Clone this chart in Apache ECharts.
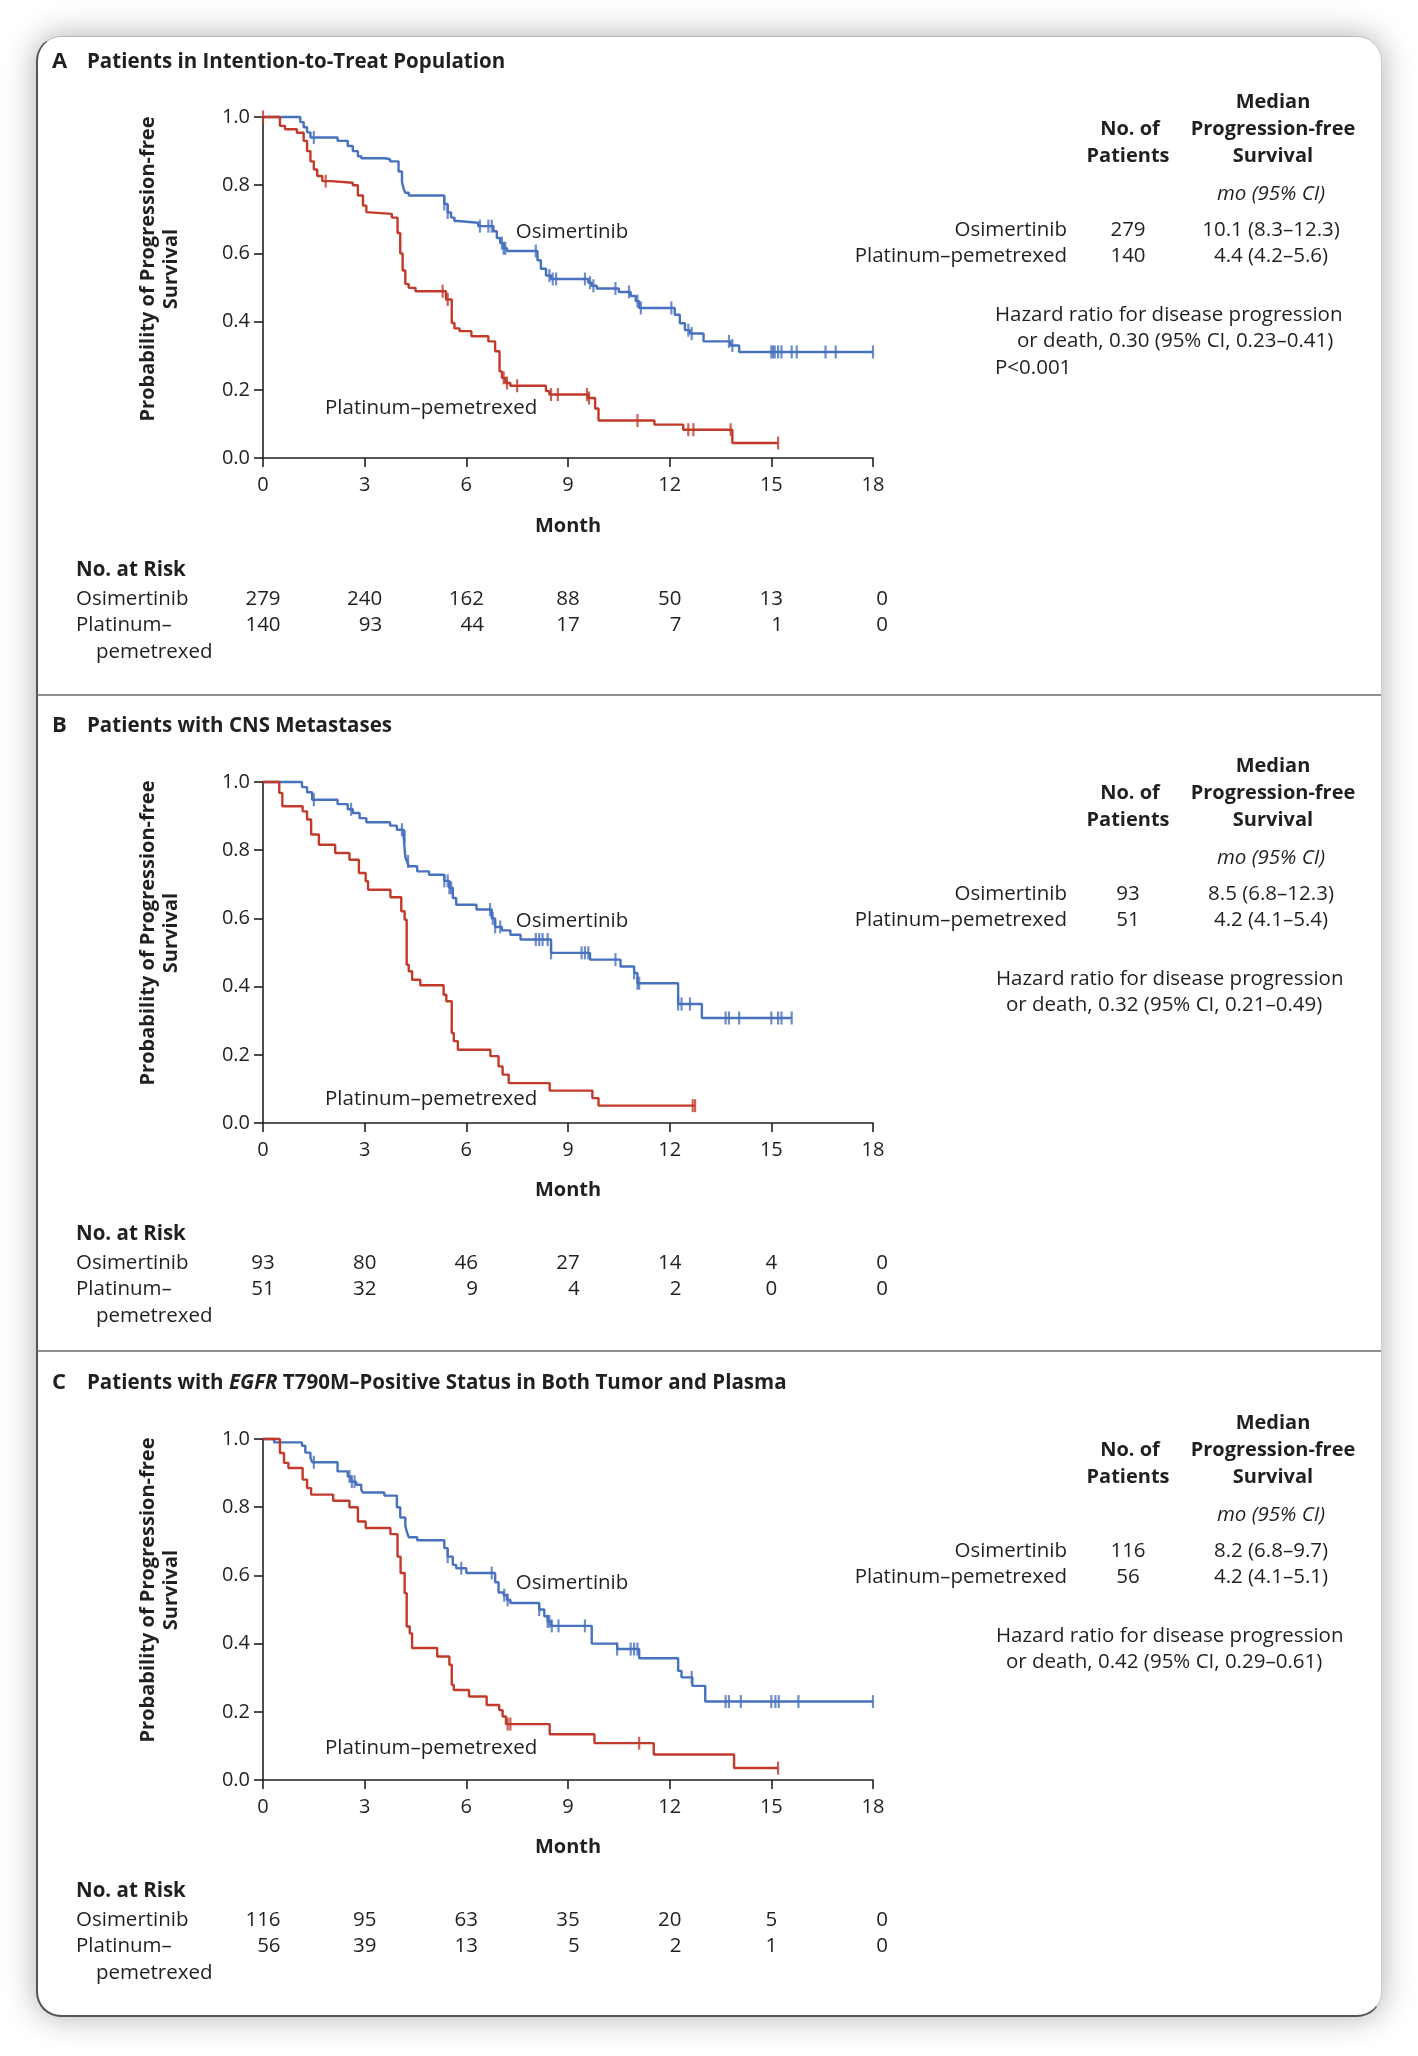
<!DOCTYPE html>
<html><head><meta charset="utf-8">
<script src="https://cdn.jsdelivr.net/npm/echarts/dist/echarts.min.js"></script>
<style>
html,body{margin:0;padding:0;background:#fff;}
#card{position:absolute;left:36px;top:36px;width:1346px;height:1981px;box-sizing:border-box;border-radius:25px;background:#fff;
box-shadow:0 0 32px rgba(0,0,0,0.32);border-left:2px solid #555;border-bottom:2px solid #555;border-top:1px solid #bbb;border-right:1px solid #ccc;}
#c{position:absolute;left:0;top:0;width:1418px;height:2056px;}
</style>
</head><body><div id="card"></div><div id="c"></div>
<script>
// ---------- DATA ----------
const monthTicks = [0, 3, 6, 9, 12, 15, 18];

// Panel A: Intention-to-treat
const osiA_time = [0,1.1,1.2,1.3,1.4,2.2,2.5,2.65,2.8,2.9,3.6,3.75,4.0,4.1,4.15,4.2,4.3,5.35,5.45,5.55,5.65,5.75,6.35,6.8,6.9,7.0,7.1,7.2,8.1,8.2,8.35,8.5,9.6,9.7,9.85,10.5,10.85,11.0,11.1,12.15,12.3,12.45,12.6,13.0,13.8,14.05];
const osiA_surv = [1.0,0.985,0.97,0.955,0.94,0.93,0.915,0.9,0.885,0.879,0.876,0.87,0.84,0.81,0.79,0.778,0.77,0.745,0.72,0.705,0.695,0.69,0.68,0.665,0.645,0.63,0.615,0.607,0.58,0.555,0.535,0.525,0.514,0.505,0.497,0.487,0.475,0.46,0.44,0.42,0.395,0.375,0.365,0.342,0.33,0.311];
const osiA_end = 18;
const osiA_cens = [1.5,5.35,5.45,6.4,6.65,6.75,7.05,7.1,7.15,8.05,8.45,8.55,8.65,9.5,9.65,9.75,10.4,10.8,11.05,11.15,12.05,12.55,12.65,13.75,13.85,15.0,15.05,15.1,15.2,15.3,15.6,15.75,16.6,16.9,18];
const ppA_time = [0,0.5,0.65,1.0,1.2,1.3,1.4,1.5,1.6,1.75,2.0,2.65,2.8,2.95,3.05,3.1,3.8,3.97,4.05,4.12,4.2,4.3,4.5,5.4,5.57,5.65,5.8,6.15,6.65,6.85,6.98,7.05,7.15,7.3,8.35,8.45,9.6,9.8,9.9,11.55,12.4,13.85];
const ppA_surv = [1.0,0.974,0.964,0.954,0.93,0.9,0.87,0.846,0.827,0.812,0.807,0.8,0.77,0.74,0.721,0.716,0.705,0.66,0.6,0.55,0.51,0.499,0.489,0.465,0.396,0.38,0.372,0.357,0.342,0.313,0.254,0.235,0.22,0.212,0.196,0.186,0.176,0.145,0.11,0.098,0.083,0.044];
const ppA_end = 15.2;
const ppA_cens = [0,1.85,5.3,5.45,7.1,7.2,7.5,8.5,8.7,9.56,9.62,11.05,12.55,12.7,13.8,15.2];
const riskA_osi = [279, 240, 162, 88, 50, 13, 0];
const riskA_pp = [140, 93, 44, 17, 7, 1, 0];
const patientsA = [279, 140];
const medianA = ['10.1 (8.3\u201312.3)', '4.4 (4.2\u20135.6)'];
const hazardA = ['Hazard ratio for disease progression', 'or death, 0.30 (95% CI, 0.23\u20130.41)', 'P<0.001'];

// Panel B: CNS metastases
const osiB_time = [0,1.15,1.3,1.45,2.2,2.5,2.65,2.85,3.05,3.75,3.95,4.15,4.2,4.25,4.3,4.55,4.9,5.35,5.5,5.6,5.7,6.3,6.75,6.85,7.05,7.3,7.6,8.5,9.65,10.55,10.95,11.05,12.25,12.95];
const osiB_surv = [1,0.985,0.97,0.948,0.935,0.92,0.909,0.894,0.882,0.872,0.86,0.84,0.78,0.767,0.753,0.738,0.728,0.71,0.69,0.66,0.64,0.626,0.6,0.575,0.565,0.552,0.538,0.499,0.479,0.459,0.44,0.41,0.349,0.308];
const osiB_end = 15.6;
const osiB_cens = [1.5,2.6,4.1,4.18,4.28,5.35,5.45,5.5,5.55,6.7,6.78,6.85,7.0,8.05,8.15,8.25,8.4,8.5,9.4,9.5,9.6,10.4,10.95,11.05,11.1,12.25,12.35,12.6,13.65,13.75,14.05,15.0,15.2,15.3,15.6];
const ppB_time = [0,0.48,0.57,1.17,1.3,1.42,1.65,2.13,2.55,2.83,3.03,3.1,3.76,4.08,4.18,4.24,4.3,4.4,4.64,5.33,5.41,5.57,5.63,5.75,6.71,6.95,7.07,7.25,8.46,9.72,9.9];
const ppB_surv = [1,0.968,0.929,0.914,0.89,0.846,0.816,0.792,0.772,0.733,0.709,0.684,0.662,0.621,0.596,0.464,0.445,0.42,0.404,0.376,0.357,0.264,0.24,0.215,0.196,0.166,0.142,0.117,0.095,0.073,0.051];
const ppB_end = 12.75;
const ppB_cens = [12.68, 12.75];
const riskB_osi = [93, 80, 46, 27, 14, 4, 0];
const riskB_pp = [51, 32, 9, 4, 2, 0, 0];
const patientsB = [93, 51];
const medianB = ['8.5 (6.8\u201312.3)', '4.2 (4.1\u20135.4)'];
const hazardB = ['Hazard ratio for disease progression', 'or death, 0.32 (95% CI, 0.21\u20130.49)'];

// Panel C: EGFR T790M-positive in tumor and plasma
const osiC_time = [0,0.33,1.15,1.25,1.4,1.45,2.2,2.5,2.6,2.75,2.9,2.95,3.58,3.95,4.05,4.2,4.25,4.3,4.55,5.35,5.45,5.6,5.7,6.0,6.85,6.95,7.1,7.2,7.3,8.15,8.3,8.4,8.5,9.7,10.45,11.1,12.25,12.35,12.67,13.05];
const osiC_surv = [1,0.99,0.98,0.96,0.945,0.932,0.905,0.89,0.875,0.866,0.851,0.843,0.834,0.8,0.77,0.745,0.726,0.712,0.703,0.68,0.655,0.631,0.621,0.607,0.58,0.55,0.542,0.528,0.519,0.5,0.48,0.465,0.452,0.4,0.384,0.357,0.32,0.301,0.276,0.23];
const osiC_end = 18;
const osiC_cens = [1.5,2.55,2.62,2.7,5.45,5.85,6.75,7.12,7.22,8.15,8.4,8.45,8.52,8.72,9.5,10.45,10.85,10.95,11.05,12.65,13.65,13.75,14.1,15.0,15.12,15.22,15.8,18];
const ppC_time = [0,0.5,0.62,0.75,1.17,1.3,1.42,2.07,2.55,2.8,3.03,3.76,3.97,4.06,4.18,4.24,4.33,4.4,5.14,5.5,5.57,5.63,6.08,6.6,6.97,7.07,7.17,8.46,9.78,11.53,13.9];
const ppC_surv = [1,0.959,0.93,0.915,0.881,0.856,0.837,0.819,0.8,0.758,0.739,0.721,0.655,0.607,0.548,0.45,0.43,0.387,0.362,0.338,0.279,0.264,0.245,0.22,0.205,0.186,0.164,0.134,0.108,0.075,0.035];
const ppC_end = 15.2;
const ppC_cens = [7.22, 7.3, 11.1, 15.2];
const riskC_osi = [116, 95, 63, 35, 20, 5, 0];
const riskC_pp = [56, 39, 13, 5, 2, 1, 0];
const patientsC = [116, 56];
const medianC = ['8.2 (6.8\u20139.7)', '4.2 (4.1\u20135.1)'];
const hazardC = ['Hazard ratio for disease progression', 'or death, 0.42 (95% CI, 0.29\u20130.61)'];

const panelLetters = ['A', 'B', 'C'];
const panelTitles = ['{b|Patients in Intention-to-Treat Population}', '{b|Patients with CNS Metastases}', '{b|Patients with }{i|EGFR}{b| T790M\u2013Positive Status in Both Tumor and Plasma}'];
const armNames = ['Osimertinib', 'Platinum\u2013pemetrexed'];

// ---------- LAYOUT / STYLE ----------
const FONT = '"Open Sans", "Noto Sans", sans-serif';
const INK = '#231f20';
const BLUE = '#4871be', RED = '#c23a2a';
const gridTops = [117, 782, 1439];
const textOff = [0, 664, 1321];
const GL = 263, GW = 610, GH = 341;
const osiLabelAt = [[7.46, 0.663], [7.46, 0.593], [7.46, 0.578]];
const ppLabelAt = [[1.83, 0.147], [1.83, 0.07], [1.83, 0.094]];

const panels = [
  {osi:[osiA_time, osiA_surv, osiA_end, osiA_cens], pp:[ppA_time, ppA_surv, ppA_end, ppA_cens], risk:[riskA_osi, riskA_pp], n:patientsA, med:medianA, hz:hazardA},
  {osi:[osiB_time, osiB_surv, osiB_end, osiB_cens], pp:[ppB_time, ppB_surv, ppB_end, ppB_cens], risk:[riskB_osi, riskB_pp], n:patientsB, med:medianB, hz:hazardB},
  {osi:[osiC_time, osiC_surv, osiC_end, osiC_cens], pp:[ppC_time, ppC_surv, ppC_end, ppC_cens], risk:[riskC_osi, riskC_pp], n:patientsC, med:medianC, hz:hazardC}
];

function kmData(t, s, end) { const d = t.map((x, i) => [x, s[i]]); d.push([end, s[s.length - 1]]); return d; }
function censData(t, s, cens) { return cens.map(c => { let v = s[0]; for (let i = 0; i < t.length; i++) if (t[i] <= c) v = s[i]; return [c, v]; }); }

const chart = echarts.init(document.getElementById('c'), null, {width: 1418, height: 2056});

const grids = [], xAxes = [], yAxes = [], series = [];
panels.forEach((p, i) => {
  grids.push({left: GL, top: gridTops[i], width: GW, height: GH, containLabel: false});
  xAxes.push({gridIndex: i, type: 'value', min: 0, max: 18, interval: 3,
    axisLine: {show: true, onZero: false, lineStyle: {color: INK, width: 1.6}},
    axisTick: {show: true, length: 9, lineStyle: {color: INK, width: 1.6}},
    axisLabel: {color: INK, fontSize: 20, fontFamily: FONT, margin: 17},
    splitLine: {show: false}});
  yAxes.push({gridIndex: i, type: 'value', min: 0, max: 1, interval: 0.2,
    axisLine: {show: true, onZero: false, lineStyle: {color: INK, width: 1.6}},
    axisTick: {show: true, length: 9, lineStyle: {color: INK, width: 1.6}},
    axisLabel: {color: INK, fontSize: 20, fontFamily: FONT, margin: 13, formatter: v => v.toFixed(1)},
    splitLine: {show: false}});
  [[p.osi, BLUE], [p.pp, RED]].forEach(([c, col]) => {
    series.push({type: 'line', xAxisIndex: i, yAxisIndex: i, step: 'end', data: kmData(c[0], c[1], c[2]),
      showSymbol: false, symbol: 'none', clip: false, lineStyle: {color: col, width: 2.4}, z: 3});
    series.push({type: 'scatter', xAxisIndex: i, yAxisIndex: i, data: censData(c[0], c[1], c[3]),
      symbol: 'rect', symbolSize: [2.2, 13], clip: false, itemStyle: {color: col}, z: 4});
  });
});

chart.setOption({animation: false, grid: grids, xAxis: xAxes, yAxis: yAxes, series: series});

// ---------- TEXT ----------
const els = [];
function T(x, y, text, o) {
  o = o || {};
  const st = {text: text, x: 0, y: 0, fill: INK, fontSize: o.size || 20.5, fontFamily: FONT,
    fontWeight: o.bold ? 'bold' : 'normal', fontStyle: o.italic ? 'italic' : 'normal',
    align: o.align || 'left', verticalAlign: 'middle'};
  if (o.rich) st.rich = o.rich;
  els.push({type: 'text', x: x, y: y, rotation: o.rot || 0, style: st, z: 100});
}
const mctx = document.createElement('canvas').getContext('2d');
function textW(s, size) { mctx.font = size + 'px ' + FONT; return mctx.measureText(s).width; }

const richT = {
  b: {fontWeight: 'bold', fontSize: 20.5, fontFamily: FONT, fill: INK},
  i: {fontWeight: 'bold', fontStyle: 'italic', fontSize: 20.5, fontFamily: FONT, fill: INK}
};

panels.forEach((p, i) => {
  const o = textOff[i];
  T(52, 62 + o, panelLetters[i], {bold: true, size: 22});
  T(87, 62 + o, panelTitles[i], {rich: richT, size: 20.5});
  // y-axis title
  T(148, 269 + o, 'Probability of Progression-free', {bold: true, size: 20, align: 'center', rot: Math.PI / 2});
  T(171, 269 + o, 'Survival', {bold: true, size: 20, align: 'center', rot: Math.PI / 2});
  // Month
  T(chart.convertToPixel({gridIndex: i}, [9, 0])[0], 526 + o, 'Month', {bold: true, size: 20, align: 'center'});
  // curve labels
  const a = chart.convertToPixel({gridIndex: i}, osiLabelAt[i]);
  T(a[0], a[1], armNames[0], {size: 20.5});
  const b = chart.convertToPixel({gridIndex: i}, ppLabelAt[i]);
  T(b[0], b[1], armNames[1], {size: 20.5});
  // No. at risk
  T(76, 570 + o, 'No. at Risk', {bold: true, size: 20.5});
  T(76, 599 + o, 'Osimertinib');
  T(76, 625 + o, 'Platinum\u2013');
  T(96, 652 + o, 'pemetrexed');
  monthTicks.forEach((m, k) => {
    const cx = chart.convertToPixel({gridIndex: i}, [m, 0])[0] + (k === monthTicks.length - 1 ? 9 : 0);
    const top = String(p.risk[0][k]);
    T(cx, 599 + o, top, {align: 'center'});
    const right = cx + textW(top, 20.5) / 2;
    T(right, 625 + o, String(p.risk[1][k]), {align: 'right'});
  });
  // right-side table
  T(1273, 102 + o, 'Median', {bold: true, size: 20, align: 'center'});
  T(1130, 129 + o, 'No. of', {bold: true, size: 20, align: 'center'});
  T(1273, 129 + o, 'Progression-free', {bold: true, size: 20, align: 'center'});
  T(1128, 156 + o, 'Patients', {bold: true, size: 20, align: 'center'});
  T(1273, 156 + o, 'Survival', {bold: true, size: 20, align: 'center'});
  T(1271, 194 + o, 'mo (95% CI)', {italic: true, align: 'center'});
  [0, 1].forEach(r => {
    const y = 230 + r * 26 + o;
    T(1067, y, armNames[r], {align: 'right'});
    T(1128, y, String(p.n[r]), {align: 'center'});
    T(1271, y, p.med[r], {align: 'center'});
  });
  T(i === 0 ? 995 : 996, 315 + o, p.hz[0]);
  T(i === 0 ? 1017 : 1006, 341 + o, p.hz[1]);
  if (p.hz[2]) T(995, 368 + o, p.hz[2]);
});
// panel separators
[695, 1351].forEach(y => els.push({type: 'line', shape: {x1: 37, y1: y, x2: 1381, y2: y}, style: {stroke: '#6b6b6b', lineWidth: 1.6}, z: 100}));

chart.setOption({graphic: {elements: els}});
</script></body></html>
